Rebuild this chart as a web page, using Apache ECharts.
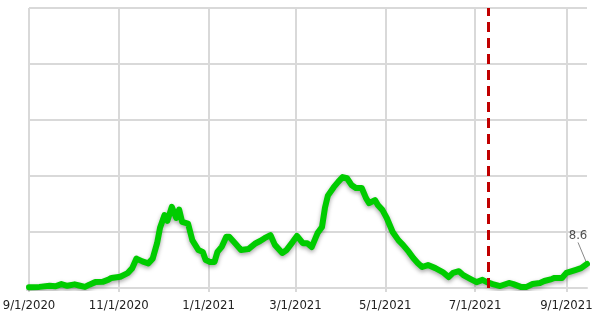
<!DOCTYPE html>
<html>
<head>
<meta charset="utf-8">
<style>
  html, body { margin: 0; padding: 0; background: #fff; }
  #chart { width: 601px; height: 314px; }
</style>
<script src="https://cdn.jsdelivr.net/npm/echarts@6/dist/echarts.min.js"></script>
</head>
<body>
<div id="chart"></div>
<script>
// values
const dates = [
  "2020-09-01", "2020-09-08", "2020-09-15", "2020-09-19", "2020-09-23", "2020-09-27",
  "2020-10-02", "2020-10-05", "2020-10-09", "2020-10-12", "2020-10-16", "2020-10-21",
  "2020-10-25", "2020-10-27", "2020-11-02", "2020-11-07", "2020-11-10", "2020-11-13",
  "2020-11-17", "2020-11-21", "2020-11-24", "2020-11-27", "2020-11-29", "2020-12-02",
  "2020-12-04", "2020-12-07", "2020-12-10", "2020-12-12", "2020-12-14", "2020-12-18",
  "2020-12-21", "2020-12-25", "2020-12-28", "2020-12-30", "2021-01-02", "2021-01-05",
  "2021-01-07", "2021-01-10", "2021-01-13", "2021-01-15", "2021-01-19", "2021-01-23",
  "2021-01-28", "2021-02-02", "2021-02-05", "2021-02-08", "2021-02-12", "2021-02-15",
  "2021-02-20", "2021-02-23", "2021-02-27", "2021-03-02", "2021-03-06", "2021-03-09",
  "2021-03-12", "2021-03-16", "2021-03-19", "2021-03-21", "2021-03-23", "2021-03-27",
  "2021-03-30", "2021-04-02", "2021-04-05", "2021-04-08", "2021-04-11", "2021-04-15",
  "2021-04-18", "2021-04-20", "2021-04-24", "2021-04-26", "2021-04-29", "2021-05-02",
  "2021-05-06", "2021-05-10", "2021-05-13", "2021-05-17", "2021-05-20", "2021-05-23",
  "2021-05-26", "2021-05-30", "2021-06-04", "2021-06-09", "2021-06-13", "2021-06-16",
  "2021-06-20", "2021-06-23", "2021-06-28", "2021-07-02", "2021-07-06", "2021-07-09",
  "2021-07-13", "2021-07-18", "2021-07-24", "2021-07-27", "2021-08-01", "2021-08-05",
  "2021-08-09", "2021-08-14", "2021-08-17", "2021-08-22", "2021-08-24", "2021-08-29",
  "2021-09-01", "2021-09-07", "2021-09-11", "2021-09-15"
];
const values = [
  0.3, 0.4, 0.8, 0.6, 1.4, 0.8,
  1.3, 0.9, 0.4, 1.2, 2.1, 2.2,
  3.0, 3.6, 4.0, 5.3, 7.0, 10.5,
  9.5, 8.8, 10.5, 16, 21.5, 26,
  24, 29, 25, 28, 23.6, 23,
  17, 13.6, 12.9, 10, 9.3, 9.3,
  12.9, 14.8, 18.3, 18.3, 16, 13.6,
  13.9, 16, 16.8, 17.8, 18.9, 15.4,
  12.5, 13.6, 16.4, 18.6, 16, 16,
  14.6, 19.6, 21.8, 28.6, 33, 36,
  37.9, 39.6, 39.2, 36.8, 35.7, 35.7,
  32, 30.3, 31.4, 29.6, 27.9, 25,
  20, 17, 15.4, 12.9, 10.7, 8.9,
  7.5, 8.2, 7.1, 5.7, 3.9, 5.4,
  6, 4.6, 3.2, 2.1, 2.9, 2.1,
  1.4, 0.7, 1.8, 1.4, 0.4, 0.4,
  1.4, 1.8, 2.5, 3.2, 3.6, 3.6,
  5.4, 6.4, 7.1, 8.6
];
const tickDates = ["2020-09-01", "2020-11-01", "2021-01-01", "2021-03-01", "2021-05-01", "2021-07-01", "2021-09-01"];
const markerDate = "2021-07-10";
const lastLabel = "8.6";

function toTime(s) {
  const p = s.split("-").map(Number);
  return new Date(p[0], p[1] - 1, p[2]).getTime();
}

const chart = echarts.init(document.getElementById("chart"), null, { renderer: "canvas" });
const gridColor = "#d9d9d9";
const fontStack = "'Liberation Sans Narrow', 'DejaVu Sans Condensed', 'Roboto Condensed', sans-serif";
const lastIdx = dates.length - 1;
const tickTimes = tickDates.map(toTime);

chart.setOption({
  animation: false,
  grid: {
    left: 29,
    right: 14,
    top: 8,
    bottom: 26,
    containLabel: false,
    outerBoundsMode: "none"
  },
  xAxis: {
    type: "value",
    min: toTime(dates[0]),
    max: toTime(dates[lastIdx]),
    axisLine: { show: true, lineStyle: { color: gridColor, width: 2 } },
    axisTick: {
      show: true,
      length: 4,
      customValues: tickTimes,
      lineStyle: { color: gridColor, width: 2 }
    },
    axisLabel: {
      customValues: tickTimes,
      margin: 11,
      color: "#222",
      fontFamily: fontStack,
      fontSize: 13,
      formatter: function (v) {
        const d = new Date(v);
        return (d.getMonth() + 1) + "/" + d.getDate() + "/" + d.getFullYear();
      }
    },
    splitLine: { show: true, lineStyle: { color: gridColor, width: 2 } }
  },
  yAxis: {
    type: "value",
    min: 0,
    max: 100,
    interval: 20,
    axisLine: { show: false },
    axisTick: { show: false },
    axisLabel: { show: false },
    splitLine: { show: true, lineStyle: { color: gridColor, width: 2 } }
  },
  series: [
    {
      type: "line",
      data: dates.map((d, i) => [toTime(d), values[i]]),
      showSymbol: false,
      symbol: "none",
      lineStyle: {
        color: "#00cc00",
        width: 6,
        join: "round",
        cap: "round",
        shadowColor: "rgba(0,0,0,0.35)",
        shadowBlur: 4,
        shadowOffsetY: 2
      },
      markLine: {
        silent: true,
        symbol: "none",
        label: { show: false },
        lineStyle: { color: "#c00000", width: 3, type: [10, 6] },
        data: [{ xAxis: toTime(markerDate) }]
      }
    },
    {
      type: "scatter",
      symbolSize: 1,
      itemStyle: { color: "rgba(0,0,0,0)" },
      data: [[toTime(dates[lastIdx]), values[lastIdx]]],
      label: {
        show: true,
        formatter: lastLabel,
        position: "top",
        color: "#222",
        fontFamily: fontStack,
        fontSize: 13
      },
      labelLayout: { dx: -9, dy: -16 },
      labelLine: { show: true, lineStyle: { color: "#888", width: 1 } }
    }
  ]
});
</script>
</body>
</html>
